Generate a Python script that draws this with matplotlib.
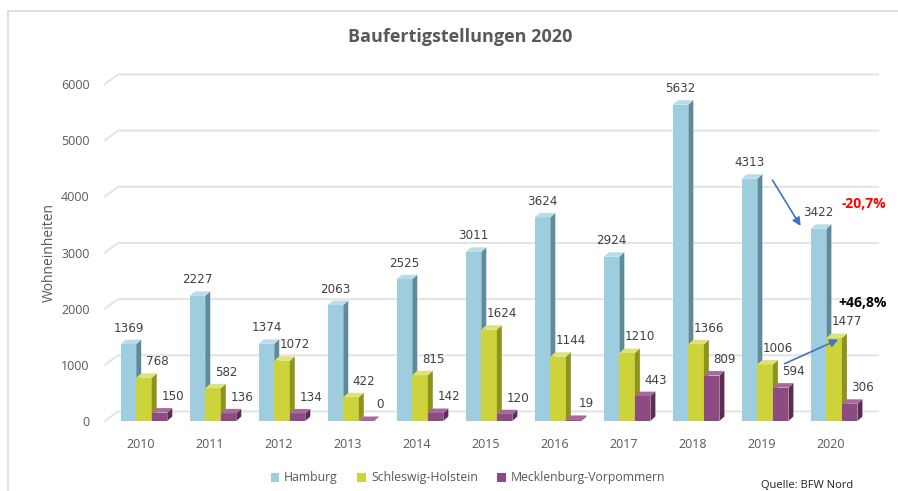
import matplotlib
matplotlib.use('Agg')
import matplotlib.pyplot as plt
from matplotlib.patches import Polygon, Patch, Rectangle
import numpy as np

plt.rcParams['font.family'] = ['Open Sans', 'DejaVu Sans']

# Daten: Baufertigstellungen (Wohneinheiten)
years = ['2010', '2011', '2012', '2013', '2014', '2015', '2016', '2017', '2018', '2019', '2020']
hamburg = [1369, 2227, 1374, 2063, 2525, 3011, 3624, 2924, 5632, 4313, 3422]
schleswig_holstein = [768, 582, 1072, 422, 815, 1624, 1144, 1210, 1366, 1006, 1477]
mecklenburg_vp = [150, 136, 134, 0, 142, 120, 19, 443, 809, 594, 306]
series_names = ['Hamburg', 'Schleswig-Holstein', 'Mecklenburg-Vorpommern']
yticks = [0, 1000, 2000, 3000, 4000, 5000, 6000]

# Farben: Vorderseite, Seite, Deckel
faces = [
    ('#9ecde0', '#5f8a9a', '#b8dcea'),
    ('#cdd43b', '#8e931f', '#dde27a'),
    ('#8e4b82', '#5c2d53', '#a8699d'),
]
offsets = [-0.18, 0.045, 0.27]
width = 0.225
dx, dy = 0.072, 80          # Tiefe der Saeulen (3D-Effekt)
gdx, gdy = 0.19, 170        # Versatz der Rueckwand

fig = plt.figure(figsize=(8.98, 4.91), dpi=100)
fig.patch.set_facecolor('white')
fig.patches.append(Rectangle((8 / 898, -0.1), 1.2, 1 - 11 / 491 + 0.1, transform=fig.transFigure,
                             fill=False, edgecolor='#d9d9d9', linewidth=1.2))

ax = fig.add_axes([105 / 898, 70 / 491, 773 / 898, 337 / 491])
ax.set_xlim(-0.52, 10.68)
ax.set_ylim(0, 6000)
for s in ax.spines.values():
    s.set_visible(False)

# Gitterlinien mit schraegem Ansatz
xl, xr = ax.get_xlim()
for v in yticks:
    ax.plot([xl, xl + gdx, xr], [v, v + gdy, v + gdy], color='#e3e3e3', lw=1.4,
            clip_on=False, zorder=0)

x = np.arange(len(years))
data = [hamburg, schleswig_holstein, mecklenburg_vp]
for si, vals in enumerate(data):
    front, side, top = faces[si]
    xs = x + offsets[si]
    ax.bar(xs, vals, width, color=front, edgecolor='none', zorder=2 + si)
    for xc, h in zip(xs, vals):
        x0, x1 = xc - width / 2, xc + width / 2
        ax.add_patch(Polygon([(x1, 0), (x1 + dx, dy), (x1 + dx, h + dy), (x1, h)],
                             closed=True, facecolor=side, edgecolor='none', zorder=2 + si))
        ax.add_patch(Polygon([(x0, h), (x1, h), (x1 + dx, h + dy), (x0 + dx, h + dy)],
                             closed=True, facecolor=top, edgecolor='none', zorder=2 + si))
        lx = xc if si == 0 else xc + 0.19
        ax.text(lx, h + 170, f'{h}', ha='center', va='bottom', fontsize=8.6,
                family='DejaVu Sans', color='#404040', zorder=10)

ax.set_xticks(x)
ax.set_xticklabels(years)
ax.set_yticks(yticks)
ax.set_yticklabels([str(v) for v in yticks])
ax.tick_params(axis='both', length=0, labelsize=9, colors='#595959')
ax.tick_params(axis='x', pad=12)
ax.tick_params(axis='y', pad=11)
ax.set_ylabel('Wohneinheiten', fontsize=10, color='#595959', labelpad=3)

fig.text(460 / 898, 1 - 37 / 491, 'Baufertigstellungen 2020', ha='center', va='center',
         fontsize=13, fontweight='bold', color='#595959')

# Veraenderungen 2019 -> 2020
ax.annotate('', xy=(9.58, 3430), xytext=(9.13, 4330),
            arrowprops=dict(arrowstyle='-|>', color='#4472c4', lw=1.2, mutation_scale=12))
ax.annotate('', xy=(10.14, 1470), xytext=(9.29, 1000),
            arrowprops=dict(arrowstyle='-|>', color='#4472c4', lw=1.2, mutation_scale=12))
ax.text(10.48, 3870, '-20,7%', ha='center', va='center', fontsize=10, fontweight='bold',
        color='#ff0000')
ax.text(10.45, 2100, '+46,8%', ha='center', va='center', fontsize=10, fontweight='bold',
        color='#000000')

handles = [Patch(facecolor=f[0], edgecolor='none') for f in faces]
leg = fig.legend(handles, series_names, ncol=3, loc='center', frameon=False,
                 bbox_to_anchor=(468 / 898, 1 - 478 / 491), fontsize=8.8,
                 handlelength=0.7, handleheight=0.7, handletextpad=0.4, columnspacing=1.6)
for t in leg.get_texts():
    t.set_color('#595959')

fig.text(807 / 898, 1 - 485 / 491, 'Quelle: BFW Nord', ha='center', va='center',
         fontsize=8, color='#222222')

fig.savefig('out.png', dpi=100, facecolor='white')
